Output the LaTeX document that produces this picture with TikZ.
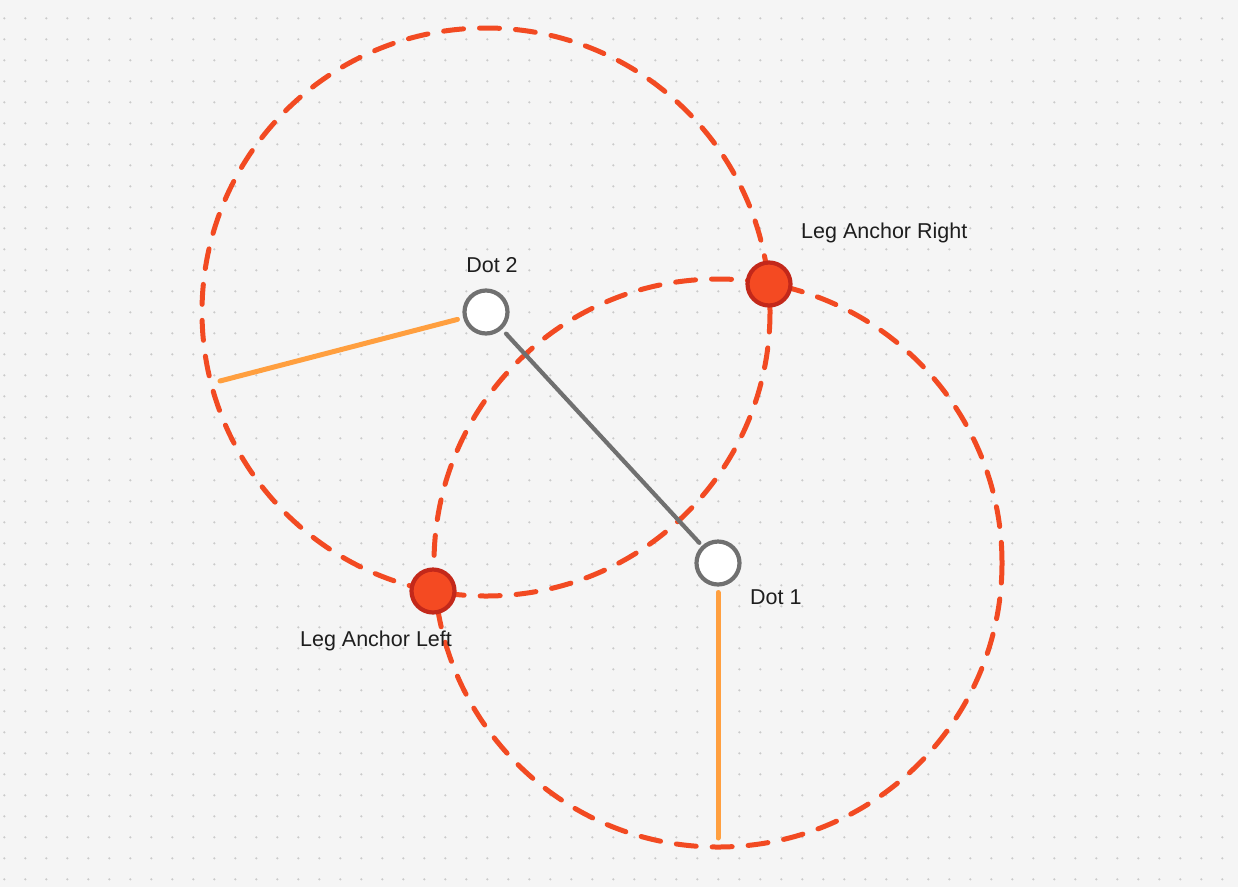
\documentclass[tikz,border=0pt]{standalone}
\usepackage{fontspec}
\setmainfont{Liberation Sans}
\definecolor{bg}{HTML}{F5F5F5}
\definecolor{griddot}{HTML}{CACACA}
\definecolor{redline}{HTML}{F24A22}
\definecolor{redfill}{HTML}{F44A22}
\definecolor{redborder}{HTML}{C3281A}
\definecolor{orangeline}{HTML}{FF9F3F}
\definecolor{grayline}{HTML}{707070}
\definecolor{txt}{HTML}{1E1E1E}
\tikzset{
  dotnode/.style={circle, draw=grayline, line width=4.2pt, fill=white, minimum size=43pt, inner sep=0pt, outer sep=4pt},
  anchornode/.style={circle, draw=redborder, line width=4.2pt, fill=redfill, minimum size=43pt, inner sep=0pt},
  reach/.style={draw=redline, line width=5pt, line cap=round, dash pattern=on 20pt off 16pt},
  radiusline/.style={draw=orangeline, line width=5pt, line cap=round, shorten <=4pt},
  linkline/.style={draw=grayline, line width=4.2pt, line cap=round, shorten <=4pt, shorten >=2pt},
  lbl/.style={text=txt, font=\fontsize{21.5}{26}\selectfont, inner sep=0pt}
}
\begin{document}
\begin{tikzpicture}[x=1pt,y=-1pt]
\fill[bg] (0,0) rectangle (1238,887);
\useasboundingbox (0,0) rectangle (1238,887);
\foreach \i in {0,...,58}{
  \foreach \j in {0,...,41}{
    \fill[griddot] ({4.3+21*\i},{18.3+21*\j}) circle (1.2);
  }
}
% centres
\coordinate (c2) at (486,312);
\coordinate (c1) at (718,563);
% dashed reach circles
\draw[reach] (c2) circle [radius=284];
\draw[reach] (c1) circle [radius=284];
% dots
\node[dotnode] (d2) at (c2) {};
\node[dotnode] (d1) at (c1) {};
% radius ends
\coordinate (e2) at (220,381);
\coordinate (e1) at (718,838);
\draw[radiusline] (d2) -- (e2);
\draw[radiusline] (d1) -- (e1);
\draw[linkline] (d2) -- (d1);
% leg anchors
\node[anchornode] (lar) at (769,284) {};
\node[anchornode] (lal) at (433,591) {};
% labels
\node[lbl] (t2) at (492,265) {Dot 2};
\node[lbl, anchor=west] (t1) at (750,597) {Dot 1};
\node[lbl, anchor=west] (tr) at (801,233) {Leg Anchor Right};
\node[lbl] (tl) at (376,641) {Leg Anchor Left};
\end{tikzpicture}
\end{document}
